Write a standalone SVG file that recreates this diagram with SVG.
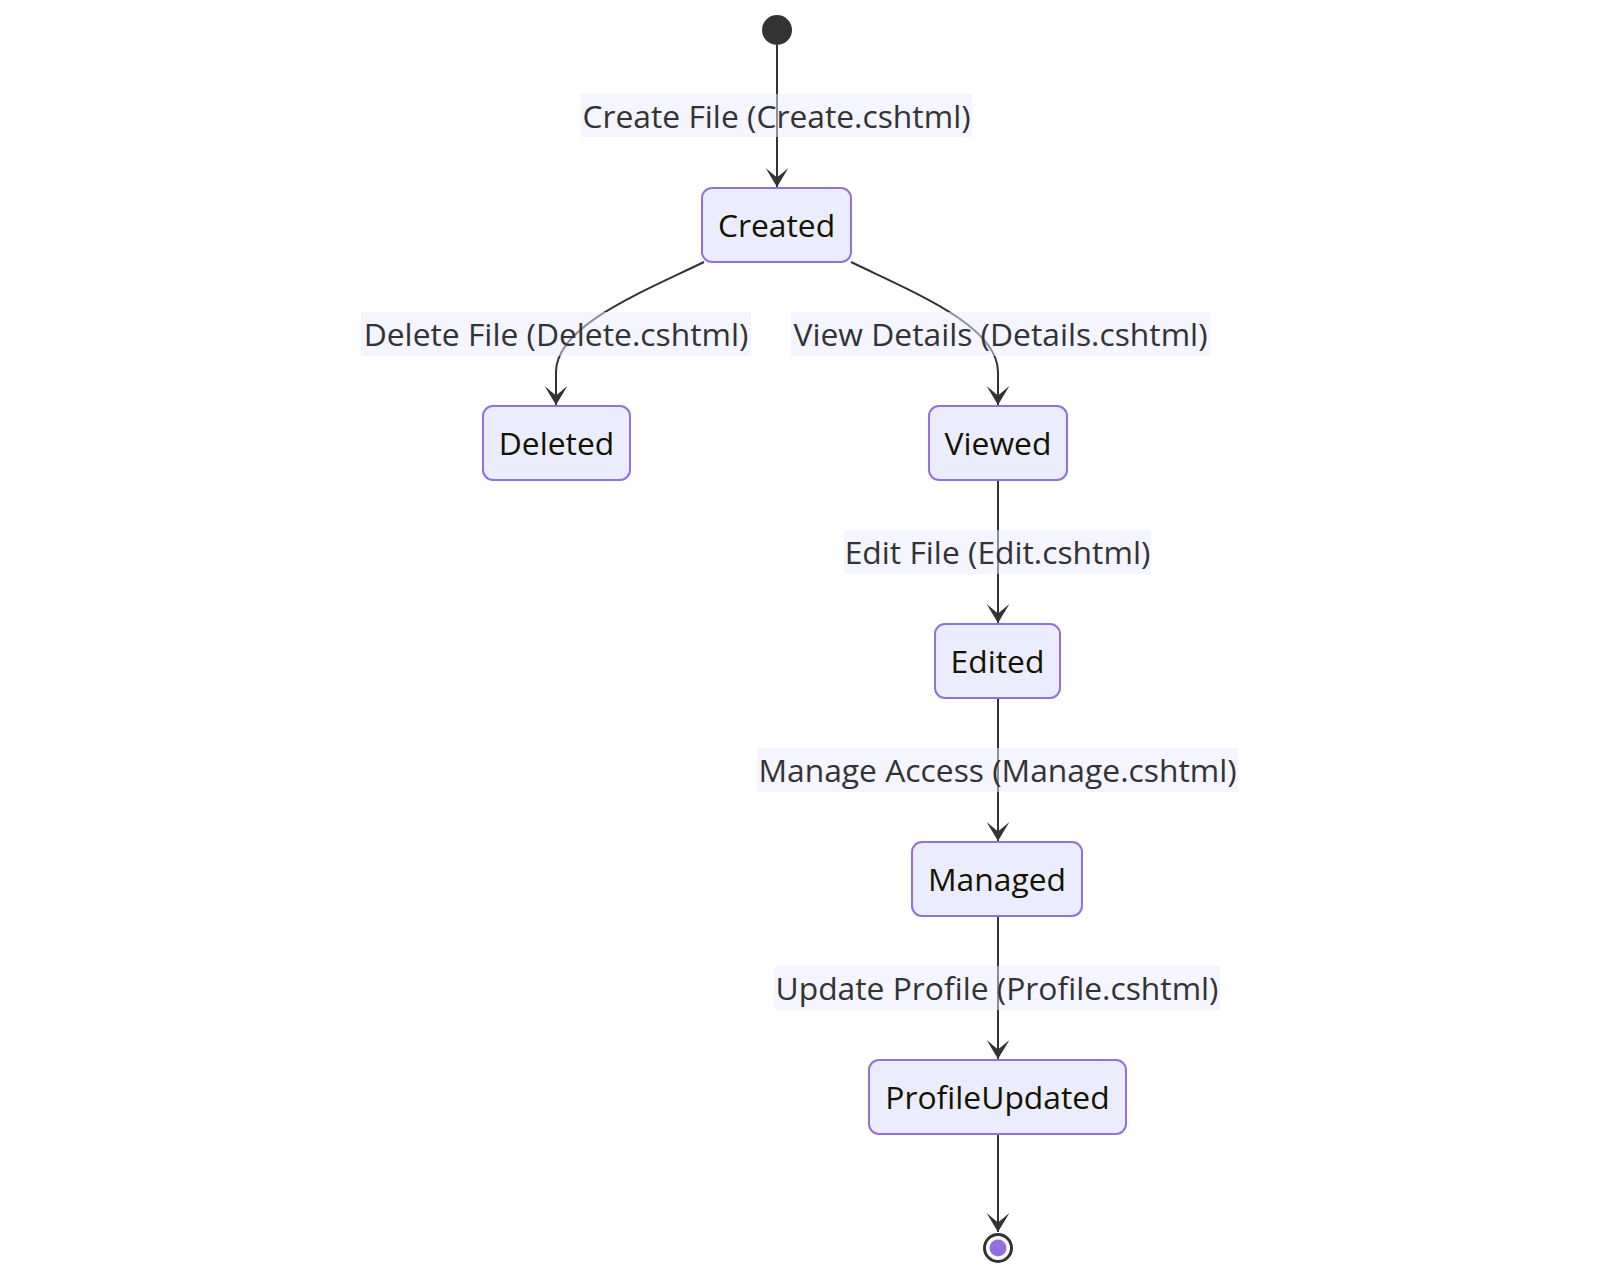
<svg xmlns="http://www.w3.org/2000/svg" width="1600" height="1278" viewBox="0 0 1600 1278">
<style>
.node rect{fill:#ECECFF;stroke:#9370DB;stroke-width:2}
.node text{font-family:"Open Sans","Noto Sans","Liberation Sans",sans-serif;font-size:31.8px;fill:#131300;text-anchor:middle}
.edge{fill:none;stroke:#333;stroke-width:2}
.lbl rect{fill:#ECECFF;opacity:0.5}
.lbl text{font-family:"Open Sans","Noto Sans","Liberation Sans",sans-serif;font-size:31.8px;fill:#333;text-anchor:middle}
</style>
<defs>
<marker id="barb" viewBox="0 0 20 14" markerUnits="userSpaceOnUse" markerWidth="38" markerHeight="26.6" refX="19" refY="7" orient="auto">
<path d="M19,7 L9,13 L14,7 L9,1 Z" fill="#333"/>
</marker>
</defs>
<rect width="1600" height="1278" fill="#fff"/>
<g id="connectors">
<path class="edge" d="M777,45 L777,187" marker-end="url(#barb)"/>
<path class="edge" d="M704,262 C640,293 556,326 556,372 L556,405" marker-end="url(#barb)"/>
<path class="edge" d="M851,262 C915,293 998,326 998,372 L998,405" marker-end="url(#barb)"/>
<path class="edge" d="M998,480 L998,623" marker-end="url(#barb)"/>
<path class="edge" d="M998,698 L998,841" marker-end="url(#barb)"/>
<path class="edge" d="M998,916 L998,1059" marker-end="url(#barb)"/>
<path class="edge" d="M998,1134 L998,1232" marker-end="url(#barb)"/>
<g class="lbl"><rect x="581" y="94" width="391" height="43"/><text x="776.5" y="127.5">Create File (Create.cshtml)</text></g>
<g class="lbl"><rect x="361" y="312" width="390" height="44"/><text x="556" y="346">Delete File (Delete.cshtml)</text></g>
<g class="lbl"><rect x="791" y="312" width="419" height="44"/><text x="1000.5" y="346">View Details (Details.cshtml)</text></g>
<g class="lbl"><rect x="844" y="530" width="307" height="44"/><text x="997.5" y="564">Edit File (Edit.cshtml)</text></g>
<g class="lbl"><rect x="757" y="748" width="481" height="44"/><text x="997.5" y="782">Manage Access (Manage.cshtml)</text></g>
<g class="lbl"><rect x="774" y="966" width="446" height="44"/><text x="997" y="1000">Update Profile (Profile.cshtml)</text></g>
</g>
<g id="start"><circle cx="777" cy="30" r="15" fill="#333"/></g>
<g id="Created" class="node"><rect x="702" y="188" width="149" height="74" rx="10"/><text x="776.5" y="237">Created</text></g>
<g id="Deleted" class="node"><rect x="483" y="406" width="147" height="74" rx="10"/><text x="556.5" y="455">Deleted</text></g>
<g id="Viewed" class="node"><rect x="929" y="406" width="138" height="74" rx="10"/><text x="998" y="455">Viewed</text></g>
<g id="Edited" class="node"><rect x="935" y="624" width="125" height="74" rx="10"/><text x="997.5" y="673">Edited</text></g>
<g id="Managed" class="node"><rect x="912" y="842" width="170" height="74" rx="10"/><text x="997" y="891">Managed</text></g>
<g id="ProfileUpdated" class="node"><rect x="869" y="1060" width="257" height="74" rx="10"/><text x="997.5" y="1109">ProfileUpdated</text></g>
<g id="end"><circle cx="998" cy="1248" r="13.5" fill="#fff" stroke="#333" stroke-width="3"/><circle cx="998" cy="1248" r="8.5" fill="#9370DB"/></g>
</svg>
